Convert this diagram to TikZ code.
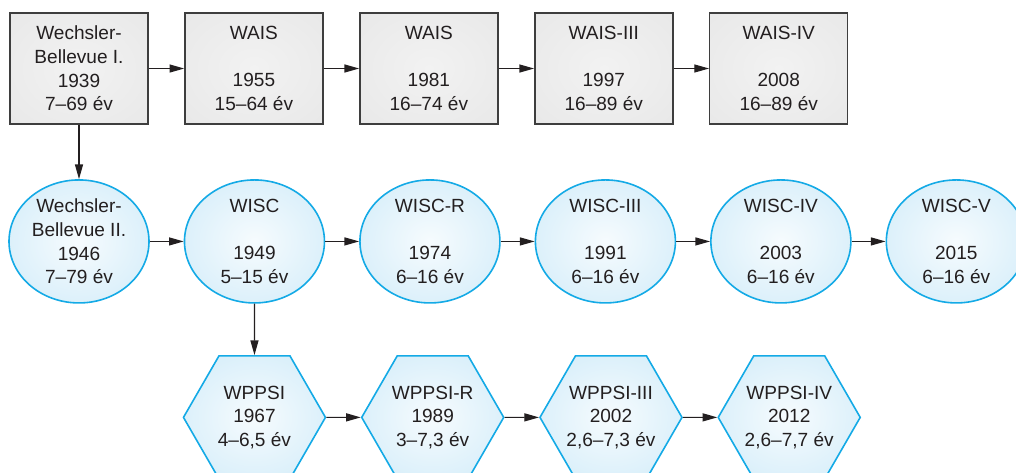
\documentclass[tikz,border=0pt]{standalone}
\usepackage{fontspec}
\setmainfont{Liberation Sans}
\usetikzlibrary{shapes, arrows.meta, positioning}
\definecolor{w-dark}{RGB}{35,31,32}
\definecolor{w-line}{RGB}{62,62,62}
\definecolor{w-cyan}{RGB}{20,170,230}
\definecolor{w-gray}{RGB}{226,226,226}
\definecolor{w-blue}{RGB}{196,230,247}
% soft fills, light in the middle
\pgfdeclareradialshading{grayfill}{\pgfpoint{0bp}{0bp}}{color(0bp)=(white!55!w-gray); color(60bp)=(w-gray); color(75bp)=(w-gray)}
\pgfdeclareradialshading{bluefill}{\pgfpoint{0bp}{0bp}}{color(0bp)=(white!85!w-blue); color(48bp)=(w-blue); color(60bp)=(w-blue)}

\begin{document}
\begin{tikzpicture}[
    x=0.75pt, y=-0.75pt,
    node distance=41pt and 26.6pt,
    every node/.style={font=\fontsize{14.3}{17.7}\selectfont, text=w-dark, align=center, inner sep=0pt},
    adult/.style={rectangle, draw=w-line, line width=1.1pt, shading=grayfill, minimum width=103.5pt, minimum height=83.25pt},
    child/.style={ellipse, draw=w-cyan, line width=1.2pt, shading=bluefill, inner sep=-8pt, minimum width=105pt, minimum height=92.25pt, node distance=40.8pt and 25.4pt},
    preschool/.style={regular polygon, regular polygon sides=6, draw=w-cyan, line width=1.2pt, shading=bluefill, inner sep=-8pt, minimum size=106.5pt, node distance=38.5pt and 25.8pt},
    arrow/.style={-{Triangle[length=11pt, width=6pt]}, line width=0.9pt, color=w-dark}
]
    \useasboundingbox (0,0) rectangle (1016,472);
    \clip (0,0) rectangle (1016,472);

    % WAIS
    \node[adult] (wb1) at (79,68.5) {Wechsler-\\Bellevue I.\\1939\\7--69 év};
    \node[adult, right=of wb1] (wais55) {WAIS\\~\\1955\\15--64 év};
    \node[adult, right=of wais55] (wais81) {WAIS\\~\\1981\\16--74 év};
    \node[adult, right=of wais81] (wais3) {WAIS-III\\~\\1997\\16--89 év};
    \node[adult, right=of wais3] (wais4) {WAIS-IV\\~\\2008\\16--89 év};

    % WISC
    \node[child, below=of wb1] (wb2) {Wechsler-\\Bellevue II.\\1946\\7--79 év};
    \node[child, right=of wb2] (wisc) {WISC\\~\\1949\\5--15 év};
    \node[child, right=of wisc] (wiscR) {WISC-R\\~\\1974\\6--16 év};
    \node[child, right=of wiscR] (wisc3) {WISC-III\\~\\1991\\6--16 év};
    \node[child, right=of wisc3] (wisc4) {WISC-IV\\~\\2003\\6--16 év};
    \node[child, right=of wisc4] (wisc5) {WISC-V\\~\\2015\\6--16 év};

    % WPPSI
    \node[preschool, below=of wisc] (wppsi) {WPPSI\\1967\\4--6,5 év};
    \node[preschool, right=of wppsi] (wppsiR) {WPPSI-R\\1989\\3--7,3 év};
    \node[preschool, right=of wppsiR] (wppsi3) {WPPSI-III\\2002\\2,6--7,3 év};
    \node[preschool, right=of wppsi3] (wppsi4) {WPPSI-IV\\2012\\2,6--7,7 év};

    % arrows
    \draw[arrow] (wb1) -- (wais55);
    \draw[arrow] (wais55) -- (wais81);
    \draw[arrow] (wais81) -- (wais3);
    \draw[arrow] (wais3) -- (wais4);
    \draw[arrow] (wb1) -- (wb2);

    \draw[arrow] (wb2) -- (wisc);
    \draw[arrow] (wisc) -- (wiscR);
    \draw[arrow] (wiscR) -- (wisc3);
    \draw[arrow] (wisc3) -- (wisc4);
    \draw[arrow] (wisc4) -- (wisc5);
    \draw[arrow] (wisc) -- (wppsi);

    \draw[arrow] (wppsi) -- (wppsiR);
    \draw[arrow] (wppsiR) -- (wppsi3);
    \draw[arrow] (wppsi3) -- (wppsi4);
\end{tikzpicture}
\end{document}
